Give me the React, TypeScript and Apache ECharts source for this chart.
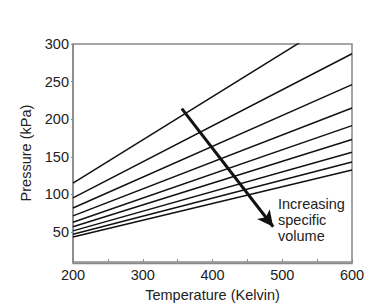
import React, { useEffect, useRef } from "react";
import * as echarts from "echarts";

const temperatures = [200, 600];
const pressureAt200 = [115, 95.5, 82, 71.5, 63, 57, 51.5, 47, 43.5];
const pressureAt600 = [345, 287, 246, 215, 191.5, 173, 156, 143, 132.5];
const yTicks = [50, 100, 150, 200, 250, 300];
const xTicks = [200, 250, 300, 350, 400, 450, 500, 550, 600];
const xLabels = [200, 300, 400, 500, 600];
const arrowStart = [356, 214];
const arrowEnd = [487, 57];
const annotation = "Increasing\nspecific\nvolume";

export default function App() {
  const ref = useRef<HTMLDivElement>(null);
  useEffect(() => {
    if (!ref.current) return;
    const chart = echarts.init(ref.current, null, { renderer: "svg" });
    const font = "Liberation Sans, Arial, sans-serif";
    const series: any[] = pressureAt200.map((p, i) => ({
      type: "line",
      data: [
        [temperatures[0], p],
        [temperatures[1], pressureAt600[i]],
      ],
      symbol: "none",
      clip: true,
      lineStyle: { color: "#111", width: 1.5 },
      silent: true,
    }));
    series.push({
      type: "line",
      data: [],
      markLine: {
        silent: true,
        symbol: ["none", "arrow"],
        symbolSize: [12, 16],
        label: { show: false },
        lineStyle: { color: "#111", width: 3, type: "solid" },
        data: [[{ coord: arrowStart }, { coord: arrowEnd }]],
      },
    });
    chart.setOption({
      animation: false,
      grid: { left: 73, top: 44, right: 40, bottom: 43.5 },
      xAxis: {
        type: "value",
        min: 200,
        max: 600,
        interval: 50,
        name: "Temperature (Kelvin)",
        nameLocation: "middle",
        nameGap: 24,
        nameTextStyle: { fontFamily: font, fontSize: 14.5, color: "#222" },
        axisLine: { show: true, lineStyle: { color: "#888", width: 1.5 } },
        axisTick: {
          show: true,
          inside: true,
          length: 3,
          customValues: xTicks,
          lineStyle: { color: "#888" },
        },
        axisLabel: {
          customValues: xLabels,
          margin: 5,
          fontFamily: font,
          fontSize: 14.5,
          color: "#222",
        },
        splitLine: { show: false },
      },
      yAxis: {
        type: "value",
        min: 10,
        max: 300,
        name: "Pressure (kPa)",
        nameLocation: "middle",
        nameGap: 35,
        nameRotate: 90,
        nameTextStyle: { fontFamily: font, fontSize: 14.5, color: "#222" },
        axisLine: { show: true, lineStyle: { color: "#888", width: 1.5 } },
        axisTick: {
          show: true,
          length: 2,
          customValues: yTicks,
          lineStyle: { color: "#888" },
        },
        axisLabel: {
          customValues: yTicks,
          margin: 4,
          fontFamily: font,
          fontSize: 14.5,
          color: "#222",
        },
        splitLine: { show: false },
      },
      graphic: [
        {
          type: "rect",
          shape: { x: 73, y: 44, width: 279, height: 219.5 },
          style: { fill: "none", stroke: "#888", lineWidth: 1.5 },
          silent: true,
          z: 1,
        },
        {
          type: "text",
          left: 278,
          top: 196,
          style: {
            text: annotation,
            fontFamily: font,
            fontSize: 14.5,
            lineHeight: 16,
            fill: "#222",
          },
        },
      ],
      series,
    });
    return () => chart.dispose();
  }, []);
  return <div ref={ref} style={{ width: 392, height: 307, position: "absolute", left: 0, top: 0 }} />;
}
